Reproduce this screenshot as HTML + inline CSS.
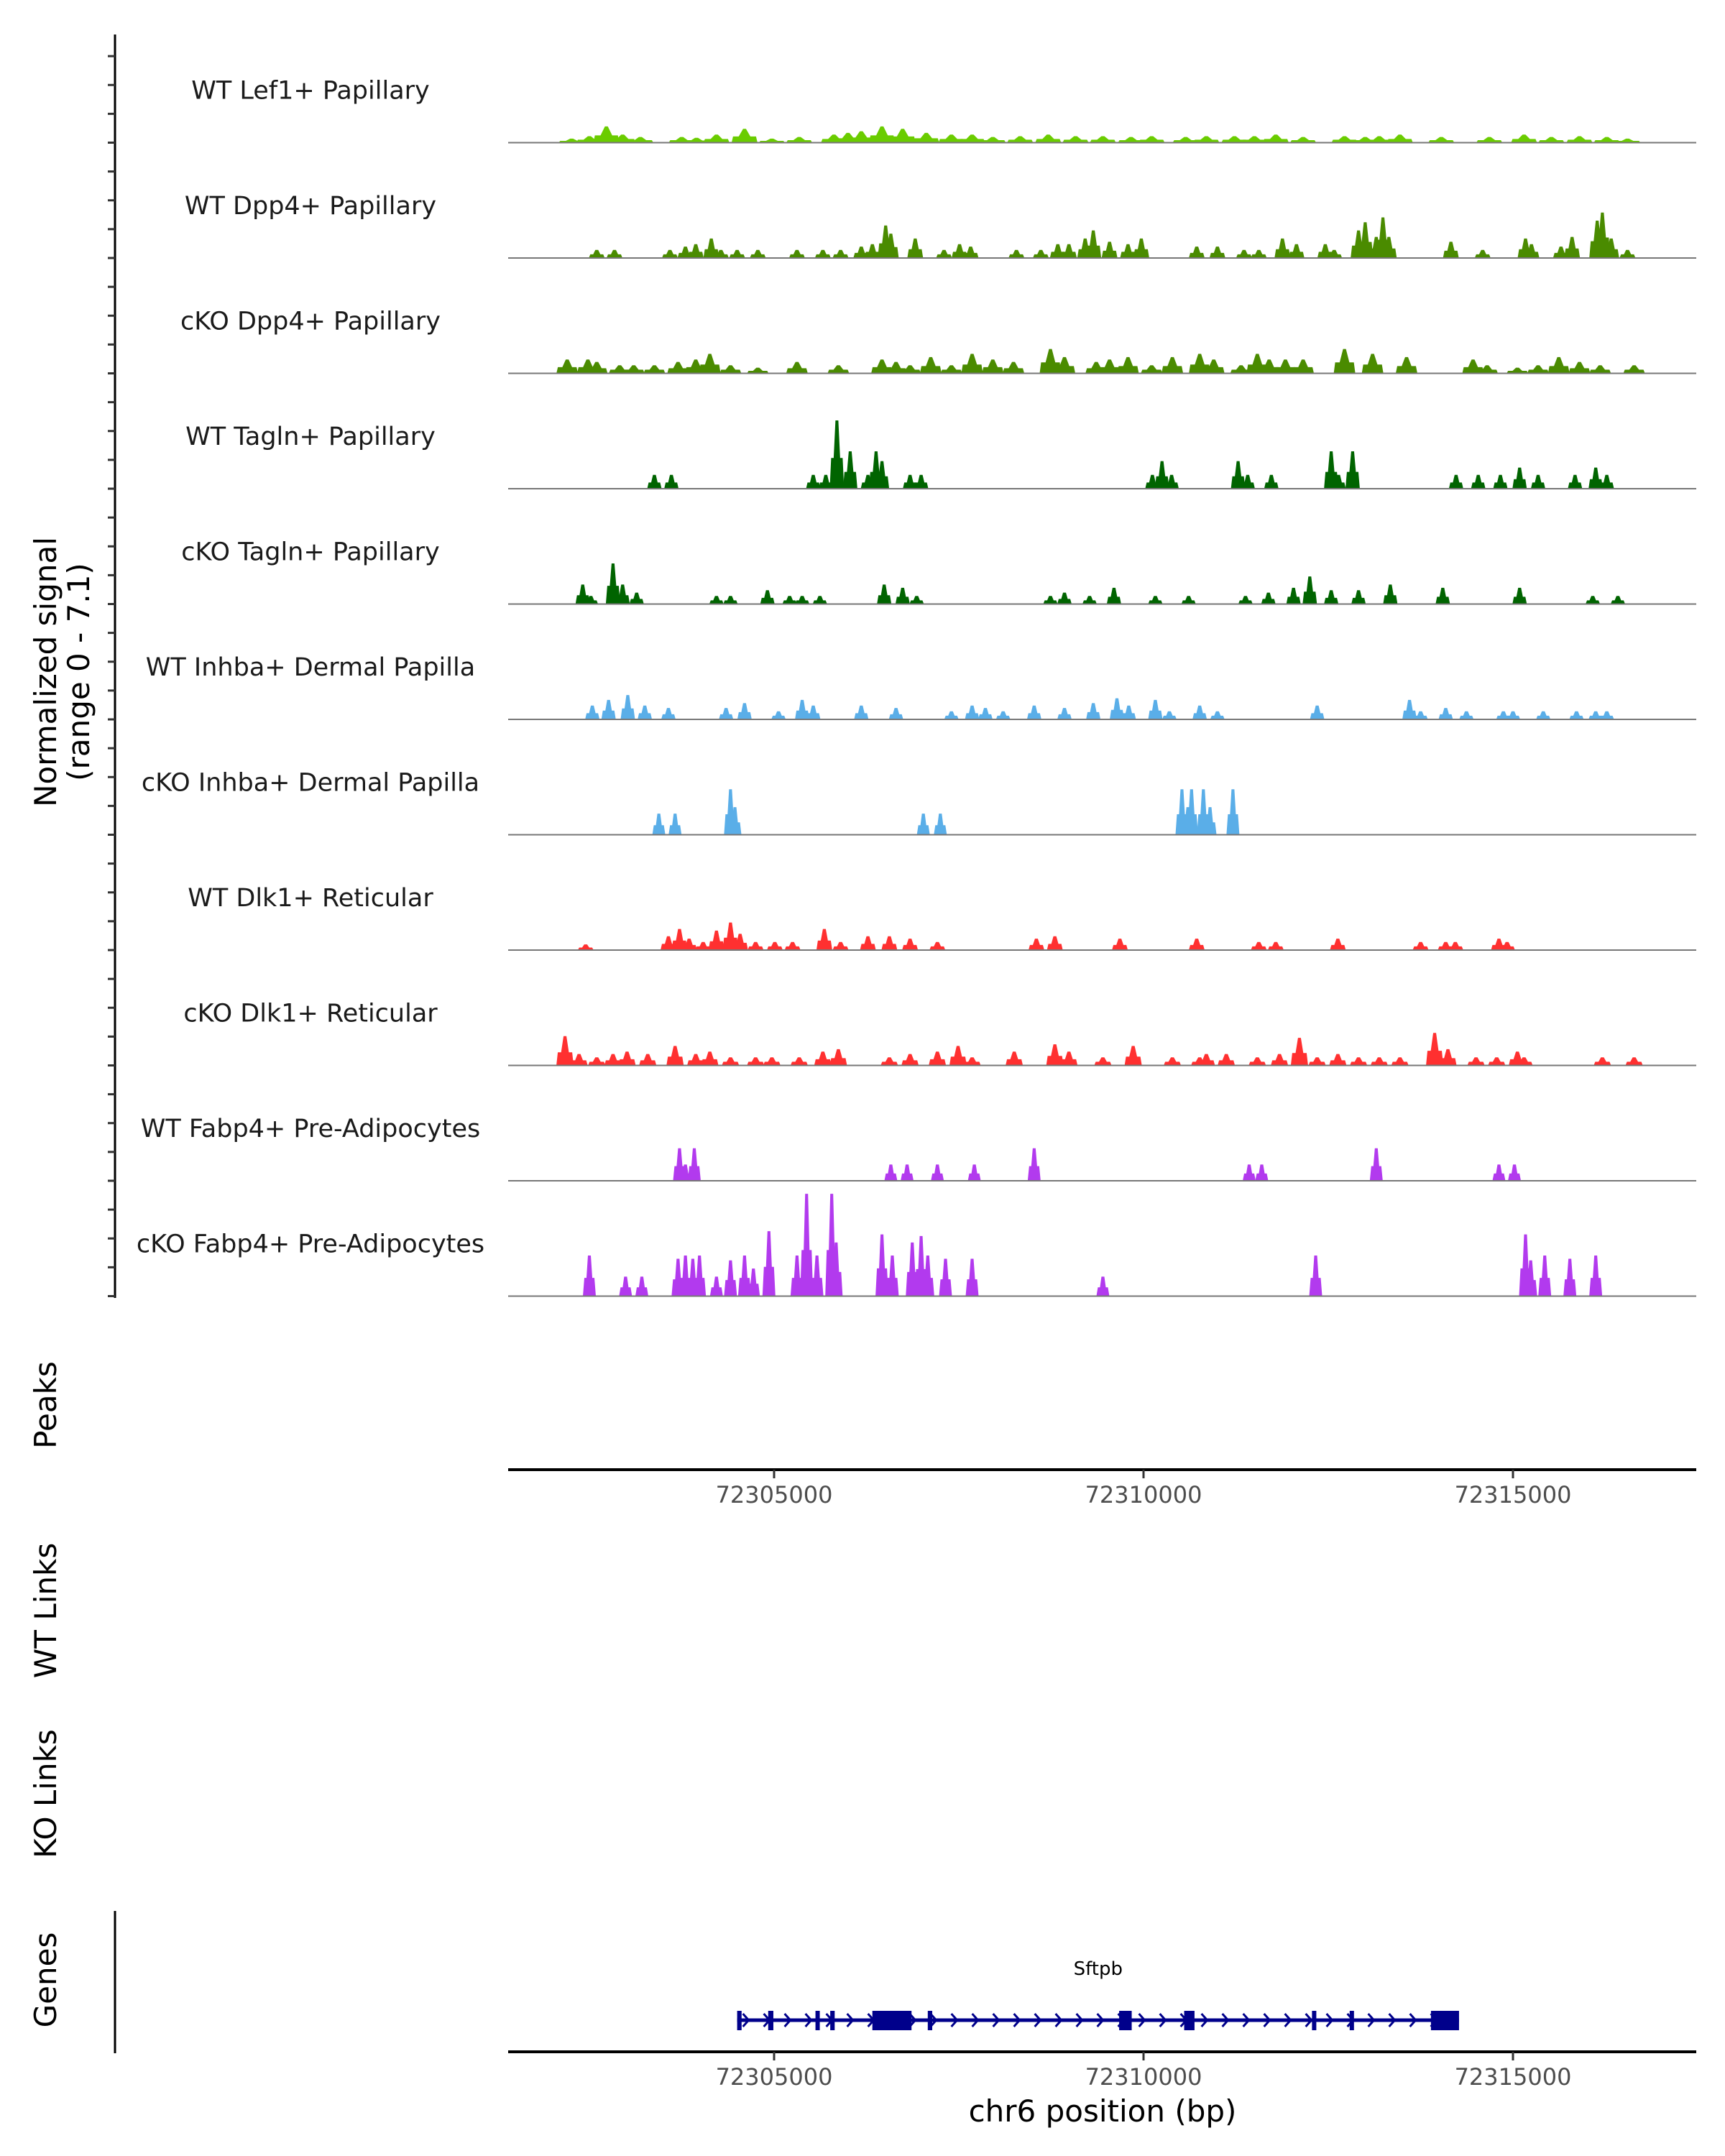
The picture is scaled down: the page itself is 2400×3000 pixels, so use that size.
<!DOCTYPE html>
<html><head><meta charset="utf-8"><style>
html,body{margin:0;padding:0;background:#fff;}
svg{display:block;font-family:"DejaVu Sans","Liberation Sans",sans-serif;}
</style></head><body>
<svg id="chart" width="2400" height="3000" viewBox="0 0 2400 3000" xmlns="http://www.w3.org/2000/svg">
<g id="tracks"></g>
<g id="yaxis"></g>
<g id="peaksAxis"></g>
<g id="genes"></g>
<g id="geneAxis"></g>
<text transform="translate(78,935) rotate(-90)" text-anchor="middle" font-size="42" fill="#000">Normalized signal</text>
<text transform="translate(124,935) rotate(-90)" text-anchor="middle" font-size="42" fill="#000">(range 0 - 7.1)</text>
<text transform="translate(78,1955) rotate(-90)" text-anchor="middle" font-size="42" fill="#000">Peaks</text>
<text transform="translate(78,2241) rotate(-90)" text-anchor="middle" font-size="42" fill="#000">WT Links</text>
<text transform="translate(78,2496) rotate(-90)" text-anchor="middle" font-size="42" fill="#000">KO Links</text>
<text transform="translate(78,2755) rotate(-90)" text-anchor="middle" font-size="42" fill="#000">Genes</text>
<line x1="160" y1="2659" x2="160" y2="2857" stroke="#000" stroke-width="3"/>
<text x="1534" y="2952" text-anchor="middle" font-size="42" fill="#000">chr6 position (bp)</text>
</svg>
<script>
// ---- data (positions in kb offset from 72300000, heights in normalized signal) ----
const trackNames = ["WT Lef1+ Papillary","WT Dpp4+ Papillary","cKO Dpp4+ Papillary","WT Tagln+ Papillary","cKO Tagln+ Papillary","WT Inhba+ Dermal Papilla","cKO Inhba+ Dermal Papilla","WT Dlk1+ Reticular","cKO Dlk1+ Reticular","WT Fabp4+ Pre-Adipocytes","cKO Fabp4+ Pre-Adipocytes"];
const trackColors = ["#6ACC00","#4A8B00","#4A8B00","#006400","#006400","#5AAEE8","#5AAEE8","#FF3030","#FF3030","#B23AEE","#B23AEE"];
const lef1Pos = [2.26,2.5,2.73,2.95,3.19,3.75,3.95,4.22,4.6,4.97,5.34,5.81,6.0,6.18,6.46,6.74,7.06,7.4,7.68,7.96,8.33,8.71,9.08,9.45,9.83,10.11,10.57,10.85,11.23,11.5,11.79,12.16,12.72,13.0,13.19,13.47,14.03,14.68,15.15,15.52,15.9,16.27,16.55];
const lef1Val = [0.25,0.4,1.0,0.5,0.35,0.35,0.3,0.5,0.85,0.25,0.35,0.5,0.6,0.7,1.0,0.85,0.6,0.5,0.5,0.35,0.4,0.5,0.4,0.4,0.35,0.4,0.35,0.4,0.4,0.4,0.5,0.35,0.4,0.35,0.4,0.5,0.35,0.35,0.5,0.35,0.4,0.35,0.25];
const wtDppPos = [2.6,2.84,3.59,3.8,3.94,4.15,4.28,4.5,4.78,5.31,5.66,5.9,6.18,6.33,6.51,6.58,6.91,7.3,7.51,7.66,8.28,8.61,8.84,8.99,9.21,9.32,9.54,9.79,9.97,10.72,11.0,11.36,11.56,11.88,12.07,12.46,12.58,12.91,13.0,13.15,13.24,13.32,14.16,14.59,15.17,15.25,15.65,15.8,16.14,16.21,16.33,16.55];
const wtDppVal = [0.5,0.5,0.5,0.7,0.85,1.2,0.5,0.5,0.5,0.5,0.5,0.5,0.7,0.85,2.0,1.5,1.2,0.5,0.85,0.7,0.5,0.5,0.85,0.85,1.2,1.7,1.0,0.85,1.2,0.7,0.7,0.5,0.5,1.2,0.85,0.85,0.5,1.7,2.2,1.3,2.5,1.3,1.0,0.5,1.2,0.85,0.7,1.3,2.3,2.8,1.2,0.5];
const koDppPos = [2.2,2.48,2.6,2.91,3.1,3.38,3.7,3.94,4.13,4.41,4.78,5.31,5.87,6.46,6.65,6.84,7.12,7.4,7.68,7.96,8.24,8.74,8.93,9.36,9.54,9.79,10.11,10.39,10.76,10.95,11.32,11.54,11.7,11.92,12.16,12.72,13.1,13.56,14.46,14.65,15.06,15.34,15.62,15.9,16.18,16.64];
const koDppVal = [0.85,0.85,0.7,0.5,0.5,0.5,0.7,0.85,1.2,0.5,0.35,0.7,0.5,0.85,0.7,0.5,1.0,0.5,1.2,0.85,0.7,1.5,1.0,0.7,0.85,1.0,0.5,1.0,1.2,0.85,0.5,1.2,0.85,0.85,0.85,1.5,1.2,1.0,0.85,0.5,0.35,0.5,1.0,0.7,0.5,0.5];
const wtTagPos = [3.38,3.61,5.53,5.7,5.85,6.03,6.27,6.38,6.46,6.84,6.99,10.12,10.25,10.38,11.28,11.41,11.73,12.54,12.64,12.83,14.23,14.53,14.83,15.09,15.34,15.84,16.12,16.27];
const wtTagVal = [0.85,0.85,0.85,0.85,4.2,2.3,0.85,2.3,1.7,0.85,0.85,0.85,1.7,0.85,1.7,0.85,0.85,2.3,0.85,2.3,0.85,0.85,0.85,1.3,0.85,0.85,1.3,0.85];
const koTagPos = [2.41,2.52,2.82,2.95,3.14,4.22,4.41,4.91,5.21,5.38,5.62,6.49,6.74,6.93,8.74,8.93,9.27,9.6,10.16,10.61,11.38,11.69,12.03,12.25,12.54,12.91,13.34,14.05,15.09,16.08,16.42];
const koTagVal = [1.2,0.5,2.5,1.2,0.7,0.5,0.5,0.85,0.5,0.5,0.5,1.2,1.0,0.5,0.5,0.7,0.5,1.0,0.5,0.5,0.5,0.7,1.0,1.7,0.85,0.85,1.2,1.0,1.0,0.5,0.5];
const wtInhPos = [2.54,2.76,3.02,3.25,3.57,4.35,4.6,5.06,5.38,5.53,6.18,6.65,7.4,7.68,7.86,8.1,8.52,8.93,9.32,9.64,9.8,10.16,10.35,10.76,11.0,12.35,13.6,13.75,14.09,14.37,14.87,15.0,15.41,15.86,16.12,16.27];
const wtInhVal = [0.85,1.2,1.5,0.85,0.7,0.7,1.0,0.5,1.2,0.85,0.85,0.7,0.5,0.85,0.7,0.5,0.85,0.7,1.0,1.3,0.85,1.2,0.5,0.85,0.5,0.85,1.2,0.5,0.7,0.5,0.5,0.5,0.5,0.5,0.5,0.5];
const koInhPos = [3.44,3.66,4.41,4.47,7.02,7.25,10.52,10.6,10.65,10.81,10.9,11.21];
const koInhVal = [1.3,1.3,2.8,1.7,1.3,1.3,2.8,1.7,2.8,2.8,1.7,2.8];
const wtDlkPos = [2.45,3.57,3.72,3.85,4.04,4.22,4.41,4.54,4.75,5.01,5.25,5.68,5.9,6.27,6.56,6.84,7.21,8.55,8.8,9.68,10.72,11.56,11.79,12.63,13.75,14.09,14.22,14.81,14.92];
const wtDlkVal = [0.35,0.85,1.3,0.7,0.5,1.2,1.7,1.0,0.5,0.5,0.5,1.3,0.5,0.85,0.85,0.7,0.5,0.7,0.85,0.7,0.7,0.5,0.5,0.7,0.5,0.5,0.5,0.7,0.5];
const koDlkPos = [2.17,2.36,2.6,2.82,3.01,3.29,3.66,3.94,4.13,4.41,4.75,4.97,5.34,5.66,5.87,6.56,6.84,7.21,7.49,7.68,8.25,8.8,8.99,9.45,9.86,10.39,10.76,10.85,11.12,11.54,11.84,12.11,12.35,12.63,12.91,13.19,13.47,13.94,14.12,14.5,14.78,15.06,15.15,16.21,16.64];
const koDlkVal = [1.8,0.7,0.5,0.7,0.85,0.7,1.2,0.7,0.85,0.5,0.5,0.5,0.5,0.85,1.0,0.5,0.7,0.85,1.2,0.5,0.85,1.3,0.85,0.5,1.2,0.5,0.5,0.7,0.7,0.5,0.7,1.7,0.5,0.7,0.5,0.5,0.5,2.0,1.0,0.5,0.5,0.85,0.5,0.5,0.5];
const wtFabPos = [3.72,3.8,3.92,6.58,6.8,7.21,7.71,8.52,11.43,11.6,13.15,14.81,15.02];
const wtFabVal = [2.0,1.0,2.0,1.0,1.0,1.0,1.0,2.0,1.0,1.0,2.0,1.0,1.0];
const koFabPos = [2.5,2.99,3.21,3.7,3.8,3.9,3.99,4.22,4.41,4.6,4.72,4.93,5.31,5.44,5.58,5.78,5.84,6.46,6.6,6.87,6.99,7.08,7.32,7.68,9.45,12.33,15.17,15.24,15.43,15.77,16.12];
const koFabVal = [2.5,1.2,1.2,2.3,2.5,2.3,2.5,1.2,2.2,2.5,1.7,4.0,2.5,6.3,2.5,6.3,3.3,3.8,2.5,3.3,3.7,2.5,2.3,2.3,1.2,2.5,3.8,2.2,2.5,2.3,2.5];
const trackPos = [lef1Pos,wtDppPos,koDppPos,wtTagPos,koTagPos,wtInhPos,koInhPos,wtDlkPos,koDlkPos,wtFabPos,koFabPos];
const trackVal = [lef1Val,wtDppVal,koDppVal,wtTagVal,koTagVal,wtInhVal,koInhVal,wtDlkVal,koDlkVal,wtFabVal,koFabVal];
const xTicks = [5,10,15];
const xTickLabels = ["72305000","72310000","72315000"];
const geneName = "Sftpb";
const geneStart = 4.5, geneEnd = 14.27;
const exonStart = [4.5,4.92,5.56,5.76,6.33,7.08,9.67,10.55,12.28,12.79,13.89];
const exonEnd =   [4.56,4.99,5.61,5.82,6.86,7.14,9.84,10.69,12.33,12.84,14.27];

// ---- scales ----
const X0 = 707, X1 = 2360;
function xs(kb){ return 1077 + (kb - 5) * 102.8; }
const trackTop = 38, trackH = 160.5, maxVal = 7.1;
function baseY(i){ return trackTop + trackH * (i + 1); }
function ys(v){ return v * trackH / maxVal; }
const NS = "http://www.w3.org/2000/svg";
function mk(tag, attrs, parent){ const e = document.createElementNS(NS, tag); for (const k in attrs) e.setAttribute(k, attrs[k]); parent.appendChild(e); return e; }
const halfW = [18,11,15,10,10,10,9,11,12,9,9];

const tracksG = document.getElementById('tracks');
trackNames.forEach((name, i) => {
  const g = mk('g', {}, tracksG);
  
  
  const by = baseY(i);
  const lbl = mk('text', {x: 432, y: by - 61, 'text-anchor': 'middle', 'font-size': 35, fill: '#1a1a1a'}, g);
  lbl.textContent = name;
  
  
  const pos = trackPos[i], val = trackVal[i];
  const hw = halfW[i];
  for (let j = 0; j < pos.length; j++) {
    const cx = xs(pos[j]), h = ys(val[j]);
    const p = mk('polygon', {points: `${cx-hw},${by} ${cx-hw+2},${by-h*0.45} ${cx-hw*0.45},${by-h*0.45} ${cx-2},${by-h} ${cx+2},${by-h} ${cx+hw*0.45},${by-h*0.45} ${cx+hw-2},${by-h*0.45} ${cx+hw},${by}`, fill: trackColors[i]}, g);
    
    
  }
  const bl = mk('line', {x1: X0, x2: X1, y1: by, y2: by, stroke: '#777', 'stroke-width': 2}, g);
  
  
});

// y axis
const yG = document.getElementById('yaxis');
mk('line', {x1: 160, x2: 160, y1: 48, y2: 1806, stroke: '#000', 'stroke-width': 3}, yG);
for (let k = 0; k < 44; k++) {
  const y = baseY(10) - k * trackH / 4;
  mk('line', {x1: 150, x2: 160, y1: y, y2: y, stroke: '#333', 'stroke-width': 3}, yG);
}

function drawAxis(gid, y) {
  const g = document.getElementById(gid);
  mk('line', {x1: X0, x2: X1, y1: y, y2: y, stroke: '#000', 'stroke-width': 4}, g);
  xTicks.forEach((t, i) => {
    const x = xs(t);
    mk('line', {x1: x, x2: x, y1: y, y2: y + 12, stroke: '#333', 'stroke-width': 3}, g);
    const tx = mk('text', {x: x, y: y + 46, 'text-anchor': 'middle', 'font-size': 32, fill: '#4d4d4d'}, g);
    tx.textContent = xTickLabels[i];
    
    
  });
}
drawAxis('peaksAxis', 2045);
drawAxis('geneAxis', 2855);

// gene model
const gG = document.getElementById('genes');
const gy = 2811;
const gl = mk('text', {x: (xs(geneStart) + xs(geneEnd)) / 2, y: 2748, 'text-anchor': 'middle', 'font-size': 26, fill: '#000'}, gG);
gl.textContent = geneName;


mk('line', {x1: xs(geneStart), x2: xs(geneEnd), y1: gy, y2: gy, stroke: '#00008B', 'stroke-width': 5}, gG);
for (let x = xs(geneStart) + 12; x < xs(geneEnd) - 5; x += 29) {
  mk('polyline', {points: `${x-4},${gy-9} ${x+4},${gy} ${x-4},${gy+9}`, fill: 'none', stroke: '#00008B', 'stroke-width': 3}, gG);
}
exonStart.forEach((s, i) => {
  const x1 = xs(s), x2 = Math.max(xs(exonEnd[i]), x1 + 6);
  const r = mk('rect', {x: x1, y: gy - 13, width: x2 - x1, height: 27, fill: '#00008B'}, gG);
  
  
});
</script>
</body></html>
